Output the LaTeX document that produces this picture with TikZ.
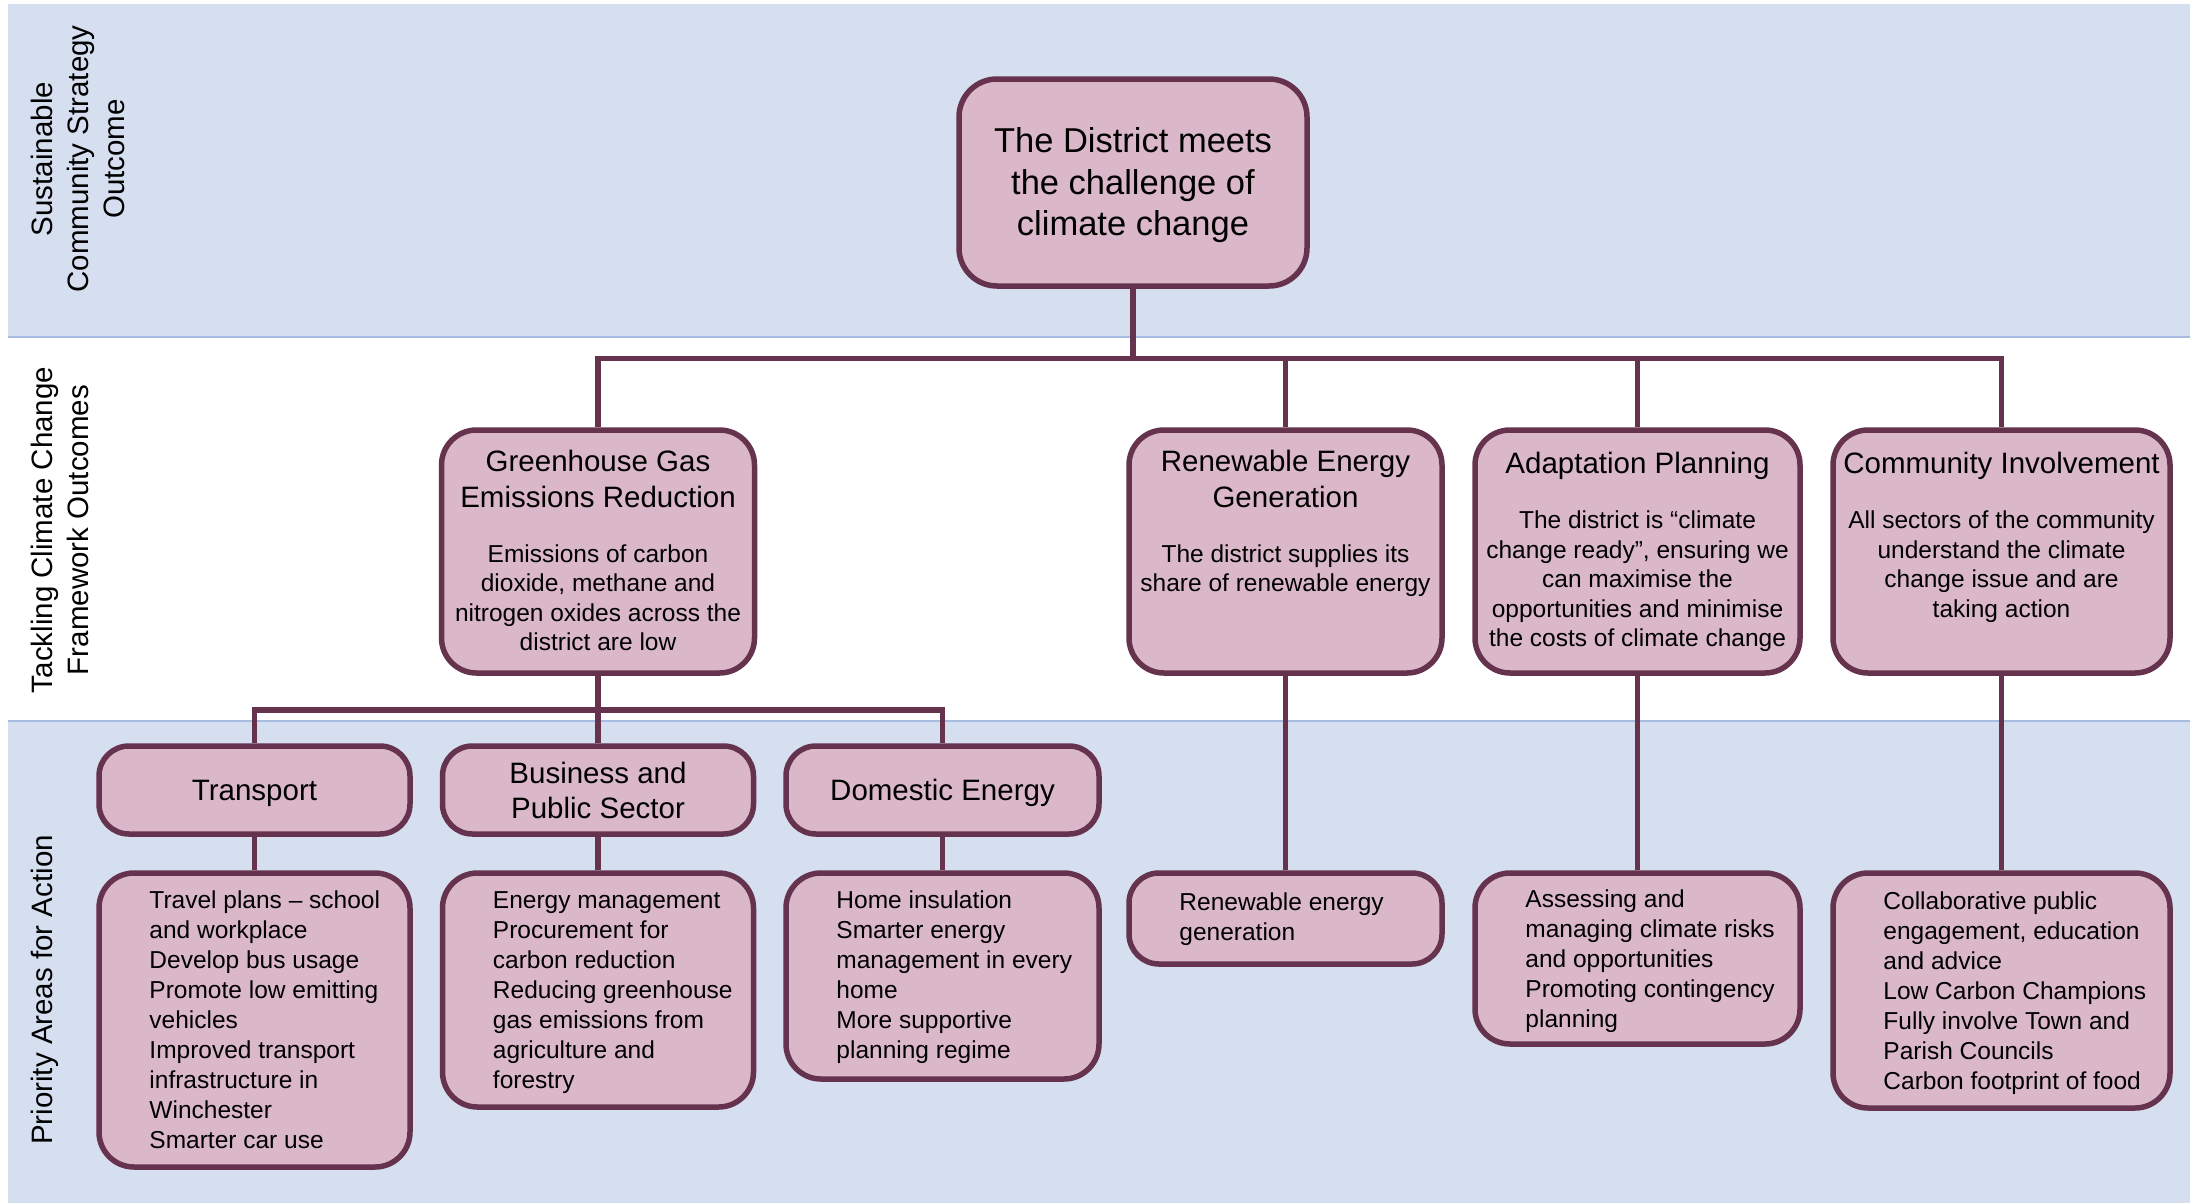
\documentclass[tikz,border=0pt]{standalone}
\usepackage{fontspec}
\setmainfont{Liberation Sans}
\usetikzlibrary{calc}
\definecolor{bandblue}{HTML}{D5DFEF}
\definecolor{bandline}{HTML}{A7BCE0}
\definecolor{boxfill}{HTML}{DBB8C9}
\definecolor{boxline}{HTML}{66334F}
\begin{document}
\begin{tikzpicture}[x=1pt,y=-1pt,
  pinkbox/.style={draw=boxline,fill=boxfill,line width=5.5pt,rounded corners=35pt,inner sep=0pt},
  hdrbox/.style={pinkbox,rounded corners=30pt,minimum height=88pt,align=center,
     font=\fontsize{29.5}{35}\selectfont},
  ttltext/.style={anchor=base,align=center,inner sep=0pt,font=\fontsize{29.5}{36}\selectfont},
  dsctext/.style={anchor=base,align=center,inner sep=0pt,font=\fontsize{24.5}{29.5}\selectfont},
  lsttext/.style={anchor=base west,align=left,inner sep=0pt,font=\fontsize{24.5}{30}\selectfont},
  lbltext/.style={anchor=north,rotate=90,align=center,inner sep=0pt,font=\fontsize{29.5}{36}\selectfont},
  conn/.style={draw=boxline,line width=5.5pt}]
\useasboundingbox (0,0) rectangle (2190,1203);
% bands
\fill[bandblue] (8,4) rectangle (2190,337);
\fill[bandblue] (8,721) rectangle (2190,1203);
\draw[bandline,line width=2.5pt] (8,337) -- (2190,337);
\draw[bandline,line width=2.5pt] (8,721) -- (2190,721);
% side labels
\node[lbltext] (lab1) at (31,159) {Sustainable\\Community Strategy\\Outcome};
\node[lbltext] (lab2) at (31,530) {Tackling Climate Change\\Framework Outcomes};
\node[lbltext] (lab3) at (31,990) {Priority Areas for Action};
% root
\node[pinkbox,rounded corners=38pt,minimum width=348pt,minimum height=207pt] (root) at (1133,182.5) {};
\node[align=center,inner sep=0pt,font=\fontsize{34.5}{41.5}\selectfont] (rootT)
  at ($(root.center)+(0,3)$) {The District meets\\the challenge of\\climate change};
% level 2
\node[pinkbox,minimum width=313pt,minimum height=243pt] (ghg) at (598,551.5) {};
\node[pinkbox,minimum width=313pt,minimum height=243pt] (ren) at (1285.5,551.5) {};
\node[pinkbox,minimum width=325pt,minimum height=243pt] (adp) at (1637.5,551.5) {};
\node[pinkbox,minimum width=337pt,minimum height=243pt] (com) at (2001.5,551.5) {};
\node[ttltext] (ghgT) at ($(ghg.north)+(0,80)$) {Greenhouse Gas\\Emissions Reduction};
\node[ttltext] (renT) at ($(ren.north)+(0,80)$) {Renewable Energy\\Generation};
\node[ttltext] (adpT) at ($(adp.north)+(0,46)$) {Adaptation Planning};
\node[ttltext] (comT) at ($(com.north)+(0,46)$) {Community Involvement};
\node[dsctext] (ghgD) at ($(ghg.north)+(0,223.5)$) {Emissions of carbon\\dioxide, methane and\\nitrogen oxides across the\\district are low};
\node[dsctext] (renD) at ($(ren.north)+(0,164.5)$) {The district supplies its\\share of renewable energy};
\node[dsctext] (adpD) at ($(adp.north)+(0,219.5)$) {The district is “climate\\change ready”, ensuring we\\can maximise the\\opportunities and minimise\\the costs of climate change};
\node[dsctext] (comD) at ($(com.north)+(0,190)$) {All sectors of the community\\understand the climate\\change issue and are\\taking action};
% level 3 headers
\node[hdrbox,text depth=0pt,minimum width=311pt] (trn) at (254.5,790) {Transport};
\node[hdrbox,minimum width=311pt] (bus) at (598,790) {Business and\\Public Sector};
\node[hdrbox,text depth=0pt,minimum width=313pt] (dom) at (942.5,790) {Domestic Energy};
% lists
\node[pinkbox,minimum width=311pt,minimum height=294pt] (trnL) at (254.5,1020) {};
\node[pinkbox,minimum width=311pt,minimum height=234pt] (busL) at (598,990) {};
\node[pinkbox,minimum width=313pt,minimum height=206pt] (domL) at (942.5,976) {};
\node[pinkbox,rounded corners=30pt,minimum width=313pt,minimum height=91pt] (renL) at (1285.5,918.5) {};
\node[pinkbox,minimum width=325pt,minimum height=171pt] (adpL) at (1637.5,958.5) {};
\node[pinkbox,minimum width=337pt,minimum height=235pt] (comL) at (2001.5,990.5) {};
\node[lsttext] (trnT) at ($(trnL.north west)+(53,278.5)$) {Travel plans – school\\and workplace\\Develop bus usage\\Promote low emitting\\vehicles\\Improved transport\\infrastructure in\\Winchester\\Smarter car use};
\node[lsttext] (busT) at ($(busL.north west)+(53,218.5)$) {Energy management\\Procurement for\\carbon reduction\\Reducing greenhouse\\gas emissions from\\agriculture and\\forestry};
\node[lsttext] (domT) at ($(domL.north west)+(53,188.5)$) {Home insulation\\Smarter energy\\management in every\\home\\More supportive\\planning regime};
\node[lsttext] (renLT) at ($(renL.north west)+(53,70.5)$) {Renewable energy\\generation};
\node[lsttext] (adpLT) at ($(adpL.north west)+(53,157)$) {Assessing and\\managing climate risks\\and opportunities\\Promoting contingency\\planning};
\node[lsttext] (comLT) at ($(comL.north west)+(53,219)$) {Collaborative public\\engagement, education\\and advice\\Low Carbon Champions\\Fully involve Town and\\Parish Councils\\Carbon footprint of food};
% connectors
\coordinate (barA) at (0,358.5);
\coordinate (barB) at (0,710);
\draw[conn] (root.south) -- (root.south |- barA);
\draw[conn] (ghg.north) -- (ghg.north |- barA) -- (com.north |- barA) -- (com.north);
\draw[conn] (ren.north) -- (ren.north |- barA);
\draw[conn] (adp.north) -- (adp.north |- barA);
\draw[conn] (ghg.south) -- (ghg.south |- barB);
\draw[conn] (trn.north) -- (trn.north |- barB) -- (dom.north |- barB) -- (dom.north);
\draw[conn] (bus.north) -- (bus.north |- barB);
\draw[conn] (trn.south) -- (trnL.north);
\draw[conn] (bus.south) -- (busL.north);
\draw[conn] (dom.south) -- (domL.north);
\draw[conn] (ren.south) -- (renL.north);
\draw[conn] (adp.south) -- (adpL.north);
\draw[conn] (com.south) -- (comL.north);
\end{tikzpicture}
\end{document}
